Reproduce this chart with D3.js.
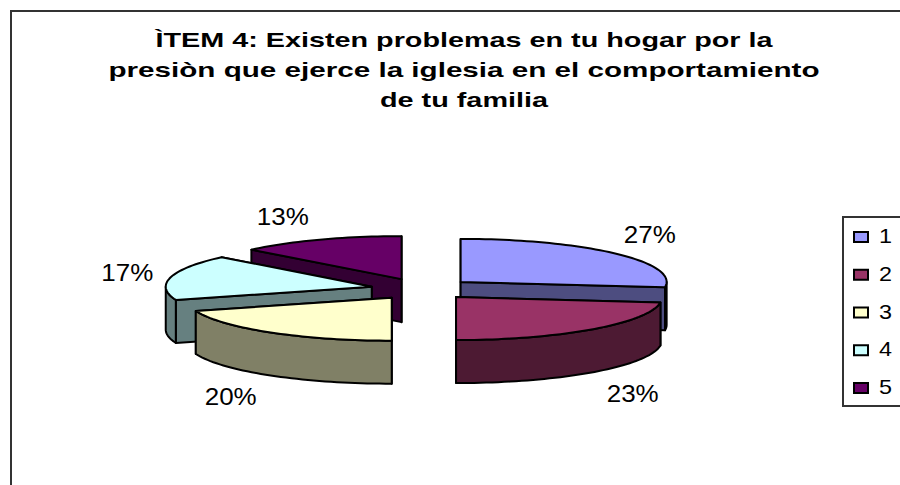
<!DOCTYPE html>
<html>
<head>
<meta charset="utf-8">
<script src="https://cdn.jsdelivr.net/npm/d3@7"></script>
<style>
html, body { margin: 0; padding: 0; background: #fff; }
svg { display: block; }
text { font-family: "Liberation Sans", Arial, sans-serif; fill: #000; }
</style>
</head>
<body>
<div id="chart"></div>
<script>
var w = 900, h = 485;

var categories = ["1", "2", "3", "4", "5"];
var values = [27, 23, 20, 17, 13];
var top_colors = ["#9999ff", "#993366", "#ffffcc", "#ccffff", "#660066"];
var wall_colors = ["#4d4d80", "#4d1a33", "#808066", "#668080", "#330033"];
var title_lines = [
	"ÌTEM 4: Existen problemas en tu hogar por la",
	"presiòn que ejerce la iglesia en el comportamiento",
	"de tu familia"
];

var cx = 422, cy = 289;
var rx = 206, ry = 43;
var depth = 43;
var explode = 0.25;

var svg = d3.select("#chart").append("svg").attr("width", w).attr("height", h);

// chart frame, only left and top fall inside the window
svg.append("path")
	.attr("d", "M11,485V11H900")
	.attr("fill", "none")
	.attr("stroke", "#333")
	.attr("stroke-width", 2);

// unit circle to screen
var px = d3.scaleLinear().domain([-1, 1]).range([-rx, rx]);
var py = d3.scaleLinear().domain([-1, 1]).range([ry, -ry]);

var arcs = d3.pie().sort(null)(values).map(function(d, i) {
	var mid = (d.startAngle + d.endAngle) / 2;
	d.i = i;
	d.mid = mid;
	d.ox = cx + px(Math.sin(mid) * explode);
	d.oy = cy + py(Math.cos(mid) * explode);
	return d;
});

function rim(d, a) {
	return [d.ox + px(Math.sin(a)), d.oy + py(Math.cos(a))];
}

function rimPoints(a0, a1, d) {
	var n = Math.max(2, Math.ceil((a1 - a0) / 0.03));
	return d3.range(n + 1).map(function(k) {
		return rim(d, a0 + (a1 - a0) * k / n);
	});
}

var line = d3.line();

function shift(pts) {
	return pts.map(function(p) { return [p[0], p[1] + depth]; });
}

function sideWall(d, a) {
	var c = rim(d, a);
	return line([[d.ox, d.oy], c, [c[0], c[1] + depth], [d.ox, d.oy + depth]]) + "Z";
}

// back slices get painted first
var order = arcs.slice().sort(function(a, b) { return a.oy - b.oy; });

var slice = svg.selectAll(".slice")
	.data(order)
	.enter().append("g")
	.attr("class", "slice")
	.attr("stroke", "#000")
	.attr("stroke-width", 2)
	.attr("stroke-linejoin", "round");

slice.each(function(d) {
	var g = d3.select(this);

	// more frontal side wall goes on top
	[d.startAngle, d.endAngle]
		.sort(function(a, b) { return Math.cos(b) - Math.cos(a); })
		.forEach(function(a) {
			g.append("path").attr("d", sideWall(d, a)).attr("fill", wall_colors[d.i]);
		});

	var a0 = Math.max(d.startAngle, Math.PI / 2);
	var a1 = Math.min(d.endAngle, Math.PI * 3 / 2);
	if (a1 > a0) {
		var upper = rimPoints(a0, a1, d);
		g.append("path")
			.attr("d", line(upper.concat(shift(upper).reverse())) + "Z")
			.attr("fill", wall_colors[d.i]);
	}

	g.append("path")
		.attr("d", line([[d.ox, d.oy]].concat(rimPoints(d.startAngle, d.endAngle, d))) + "Z")
		.attr("fill", top_colors[d.i]);
});

// percent labels, the original text is a bit stretched sideways
var label_rx = 305, label_ry = 80;
var label_nudge = [[-1, -1], [9, 2], [-12, 0], [3, 1], [-18, 1]];
var total = d3.sum(values);

svg.selectAll(".pct")
	.data(arcs)
	.enter().append("text")
	.attr("class", "pct")
	.attr("text-anchor", "middle")
	.attr("font-size", 23)
	.attr("textLength", 52)
	.attr("lengthAdjust", "spacingAndGlyphs")
	.attr("x", function(d) { return cx + Math.sin(d.mid) * label_rx + label_nudge[d.i][0]; })
	.attr("y", function(d) {
		var front = Math.cos(d.mid) < 0 ? depth : 0;
		return cy - Math.cos(d.mid) * label_ry + front + 8 + label_nudge[d.i][1];
	})
	.text(function(d) { return Math.round(d.value / total * 100) + "%"; });

// title
var title_y = d3.scalePoint().domain(d3.range(title_lines.length)).range([47, 107]);
var title_w = [617, 711, 168];

svg.selectAll(".title")
	.data(title_lines)
	.enter().append("text")
	.attr("class", "title")
	.attr("text-anchor", "middle")
	.attr("font-size", 21)
	.attr("font-weight", "bold")
	.attr("x", 464)
	.attr("y", function(d, i) { return title_y(i); })
	.attr("textLength", function(d, i) { return title_w[i]; })
	.attr("lengthAdjust", "spacingAndGlyphs")
	.text(function(d) { return d; });

// legend, runs off the right side of the window
svg.append("path")
	.attr("d", "M900,406H843V217H900")
	.attr("fill", "none")
	.attr("stroke", "#333")
	.attr("stroke-width", 2);

var legend_y = d3.scalePoint().domain(categories).range([237, 388]);

var item = svg.selectAll(".item")
	.data(categories)
	.enter().append("g")
	.attr("class", "item")
	.attr("transform", function(d) { return "translate(0," + legend_y(d) + ")"; });

item.append("rect")
	.attr("x", 854)
	.attr("y", -5)
	.attr("width", 14)
	.attr("height", 10)
	.attr("fill", function(d, i) { return top_colors[i]; })
	.attr("stroke", "#000")
	.attr("stroke-width", 2);

item.append("text")
	.attr("x", 879)
	.attr("y", 6)
	.attr("font-size", 21)
	.attr("textLength", 13)
	.attr("lengthAdjust", "spacingAndGlyphs")
	.text(function(d) { return d; });
</script>
</body>
</html>
